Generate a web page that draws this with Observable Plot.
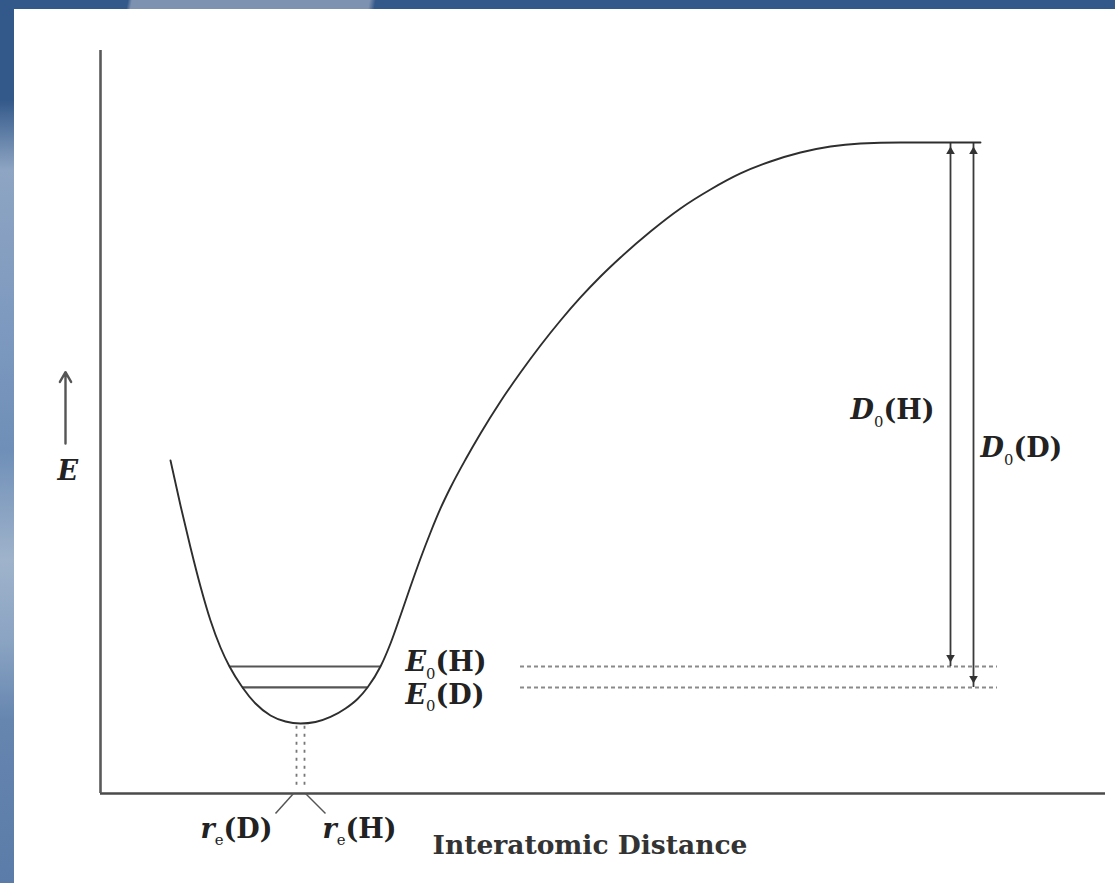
<!DOCTYPE html>
<html><head><meta charset="utf-8">
<script src="https://cdn.jsdelivr.net/npm/d3@7"></script>
<script src="https://cdn.jsdelivr.net/npm/@observablehq/plot@0.6"></script>
<style>
html,body{margin:0;padding:0;}
body{width:1115px;height:883px;position:relative;overflow:hidden;background:#33598a;}
#band{position:absolute;left:0;top:0;width:1115px;height:9px;background:linear-gradient(100deg, rgba(0,0,0,0) 126px, #7d91b0 130px, #7d91b0 364px, rgba(0,0,0,0) 370px);}
#leftband{position:absolute;left:0;top:0;width:14px;height:883px;background:linear-gradient(180deg,#33598a 0px,#33598a 100px,#8ea5c3 170px,#7d99bf 330px,#6f8fb8 450px,#9fb3cb 560px,#8ba4c3 640px,#6686b0 720px,#5b7ca8 883px);}
#panel{position:absolute;left:14px;top:9px;width:1101px;height:874px;background:#fff;}
</style></head><body>
<div id="band"></div><div id="leftband"></div>
<div id="panel"></div>
<script>
// ---- Potential energy curve (r = interatomic distance, E = energy, arbitrary units)
const curveR = [0.70,0.80,0.90,1.00,1.10,1.20,1.29,1.42,1.55,1.70,1.85,2.00,2.15,2.30,2.45,2.57,2.67,2.80,2.90,3.00,3.10,3.20,3.30,3.40,3.50,3.65,3.80,4.00,4.20,4.40,4.60,4.80,5.00,5.20,5.50,5.80,6.10,6.40,6.70,7.00,7.30,7.60,8.00,8.80];
const curveE = [4.482,3.876,3.311,2.786,2.328,1.965,1.709,1.427,1.211,1.050,0.969,0.942,0.962,1.030,1.144,1.272,1.427,1.709,2.019,2.396,2.786,3.163,3.513,3.836,4.118,4.495,4.845,5.276,5.666,6.030,6.366,6.676,6.958,7.214,7.564,7.874,8.129,8.345,8.506,8.627,8.708,8.748,8.762,8.762];

// ---- Zero-point levels
const isotopes   = ["H", "D"];
const zeroPointE = [1.709, 1.427];
const levelLeftR = [1.29, 1.42];
const levelRightR= [2.80, 2.67];
const dottedFromR = 4.20, dottedToR = 8.97;

// ---- Dissociation
const dissocE = 8.762;
const dissocArrowR = [8.50, 8.73];

// ---- Equilibrium distances
const eqR = [1.96, 2.04];
const eqMinE = 0.942, eqDotBottomE = 0.11;
const eqTickTopR = [1.93, 2.05];
const eqTickEndR = [1.75, 2.25];
const eqTickEndE = -0.27;

// ---- Energy arrow on the left
const eArrowR = -0.35, eArrowFromE = 4.71, eArrowToE = 5.67;

// ---- Text labels
const labelText = ["E_0(H)", "E_0(D)", "D_0(H)", "D_0(D)", "r_e(D)", "r_e(H)", "E"];
const labelR    = [3.05, 3.05, 7.50, 8.80, 1.00, 2.22, -0.43];
const labelE    = [1.76, 1.32, 5.15, 4.64, -0.48, -0.48, 4.33];
const axisTitle = "Interatomic Distance";
const axisTitleR = 3.32, axisTitleE = -0.70;

const curve = curveR.map((r, i) => ({r, E: curveE[i]}));
const levels = isotopes.map((k, i) => ({k, E: zeroPointE[i], left: levelLeftR[i], right: levelRightR[i], arrowR: dissocArrowR[i]}));
const eqLines = eqR.map(r => ({r}));
const eqTicks = eqTickTopR.map((r, i) => ({x1: r, y1: 0, x2: eqTickEndR[i], y2: eqTickEndE}));
const labels = labelText.map((t, i) => ({t, r: labelR[i], E: labelE[i]}));

const serif = "'DejaVu Serif', 'Liberation Serif', serif";
const ink = "#2e2e2e";

const chart = Plot.plot({
  width: 1101, height: 874,
  marginLeft: 86, marginRight: 10, marginTop: 41, marginBottom: 90,
  x: {domain: [0, 10.05], axis: null},
  y: {domain: [0, 10], axis: null},
  style: {background: "transparent", overflow: "visible"},
  marks: [
    // axes
    Plot.ruleY([0], {x1: 0, x2: 10.05, stroke: "#4a4a4a", strokeWidth: 2.6}),
    Plot.ruleX([0], {y1: 0, y2: 10, stroke: "#5a5a5a", strokeWidth: 2.6}),
    // dotted extensions of zero-point levels
    Plot.ruleY(levels, {y: "E", x1: dottedFromR, x2: dottedToR, stroke: "#8a8a8a", strokeWidth: 2, strokeDasharray: "4,3"}),
    // equilibrium dotted verticals
    Plot.ruleX(eqLines, {x: "r", y1: eqDotBottomE, y2: eqMinE, stroke: "#777", strokeWidth: 1.8, strokeDasharray: "3,5"}),
    Plot.link(eqTicks, {x1: "x1", y1: "y1", x2: "x2", y2: "y2", stroke: "#555", strokeWidth: 1.5}),
    // zero-point level lines
    Plot.ruleY(levels, {y: "E", x1: "left", x2: "right", stroke: "#555", strokeWidth: 2.2}),
    // dissociation arrows
    Plot.ruleX(levels, {x: "arrowR", y1: "E", y2: dissocE, stroke: "#3a3a3a", strokeWidth: 1.8}),
    Plot.dot(levels, {x: "arrowR", y: dissocE, dy: 9, symbol: "triangle", r: 3.2, fill: "#333", stroke: "none"}),
    Plot.dot(levels, {x: "arrowR", y: "E", dy: -9, symbol: "triangle", rotate: 180, r: 3.2, fill: "#333", stroke: "none"}),
    // potential curve
    Plot.line(curve, {x: "r", y: "E", curve: "monotone-x", stroke: ink, strokeWidth: 1.9}),
    // energy arrow
    Plot.arrow([0], {x1: eArrowR, y1: eArrowFromE, x2: eArrowR, y2: eArrowToE, stroke: "#555", strokeWidth: 2.4, headLength: 7}),
    // labels (first text mark)
    Plot.text(labels, {x: "r", y: "E", text: "t", textAnchor: "start", fontFamily: serif, fontWeight: "bold", fontSize: 27, fill: "#222"}),
    Plot.text([axisTitle], {x: axisTitleR, y: axisTitleE, text: d => d, textAnchor: "start", fontFamily: serif, fontWeight: "bold", fontSize: 26.5, fill: "#333"})
  ]
});

// rich formatting of symbol labels: italic symbol, subscript, upright remainder
const labelGroup = chart.querySelectorAll('g[aria-label="text"]')[0];
labelGroup.querySelectorAll('text').forEach(t => {
  const s = t.textContent;
  const m = s.match(/^([A-Za-z])(?:_([A-Za-z0-9]))?(.*)$/);
  if (!m) return;
  t.textContent = "";
  const ns = "http://www.w3.org/2000/svg";
  const a = document.createElementNS(ns, "tspan");
  a.setAttribute("font-style", "italic");
  a.textContent = m[1];
  t.appendChild(a);
  if (m[2]) {
    const b = document.createElementNS(ns, "tspan");
    b.setAttribute("font-size", "0.55em");
    b.setAttribute("dy", "0.5em");
    b.setAttribute("font-weight", "normal");
    b.textContent = m[2];
    t.appendChild(b);
  }
  if (m[3]) {
    const c = document.createElementNS(ns, "tspan");
    if (m[2]) c.setAttribute("dy", "-0.275em");
    c.textContent = m[3];
    t.appendChild(c);
  }
});

document.getElementById("panel").appendChild(chart);
</script>
</body></html>
